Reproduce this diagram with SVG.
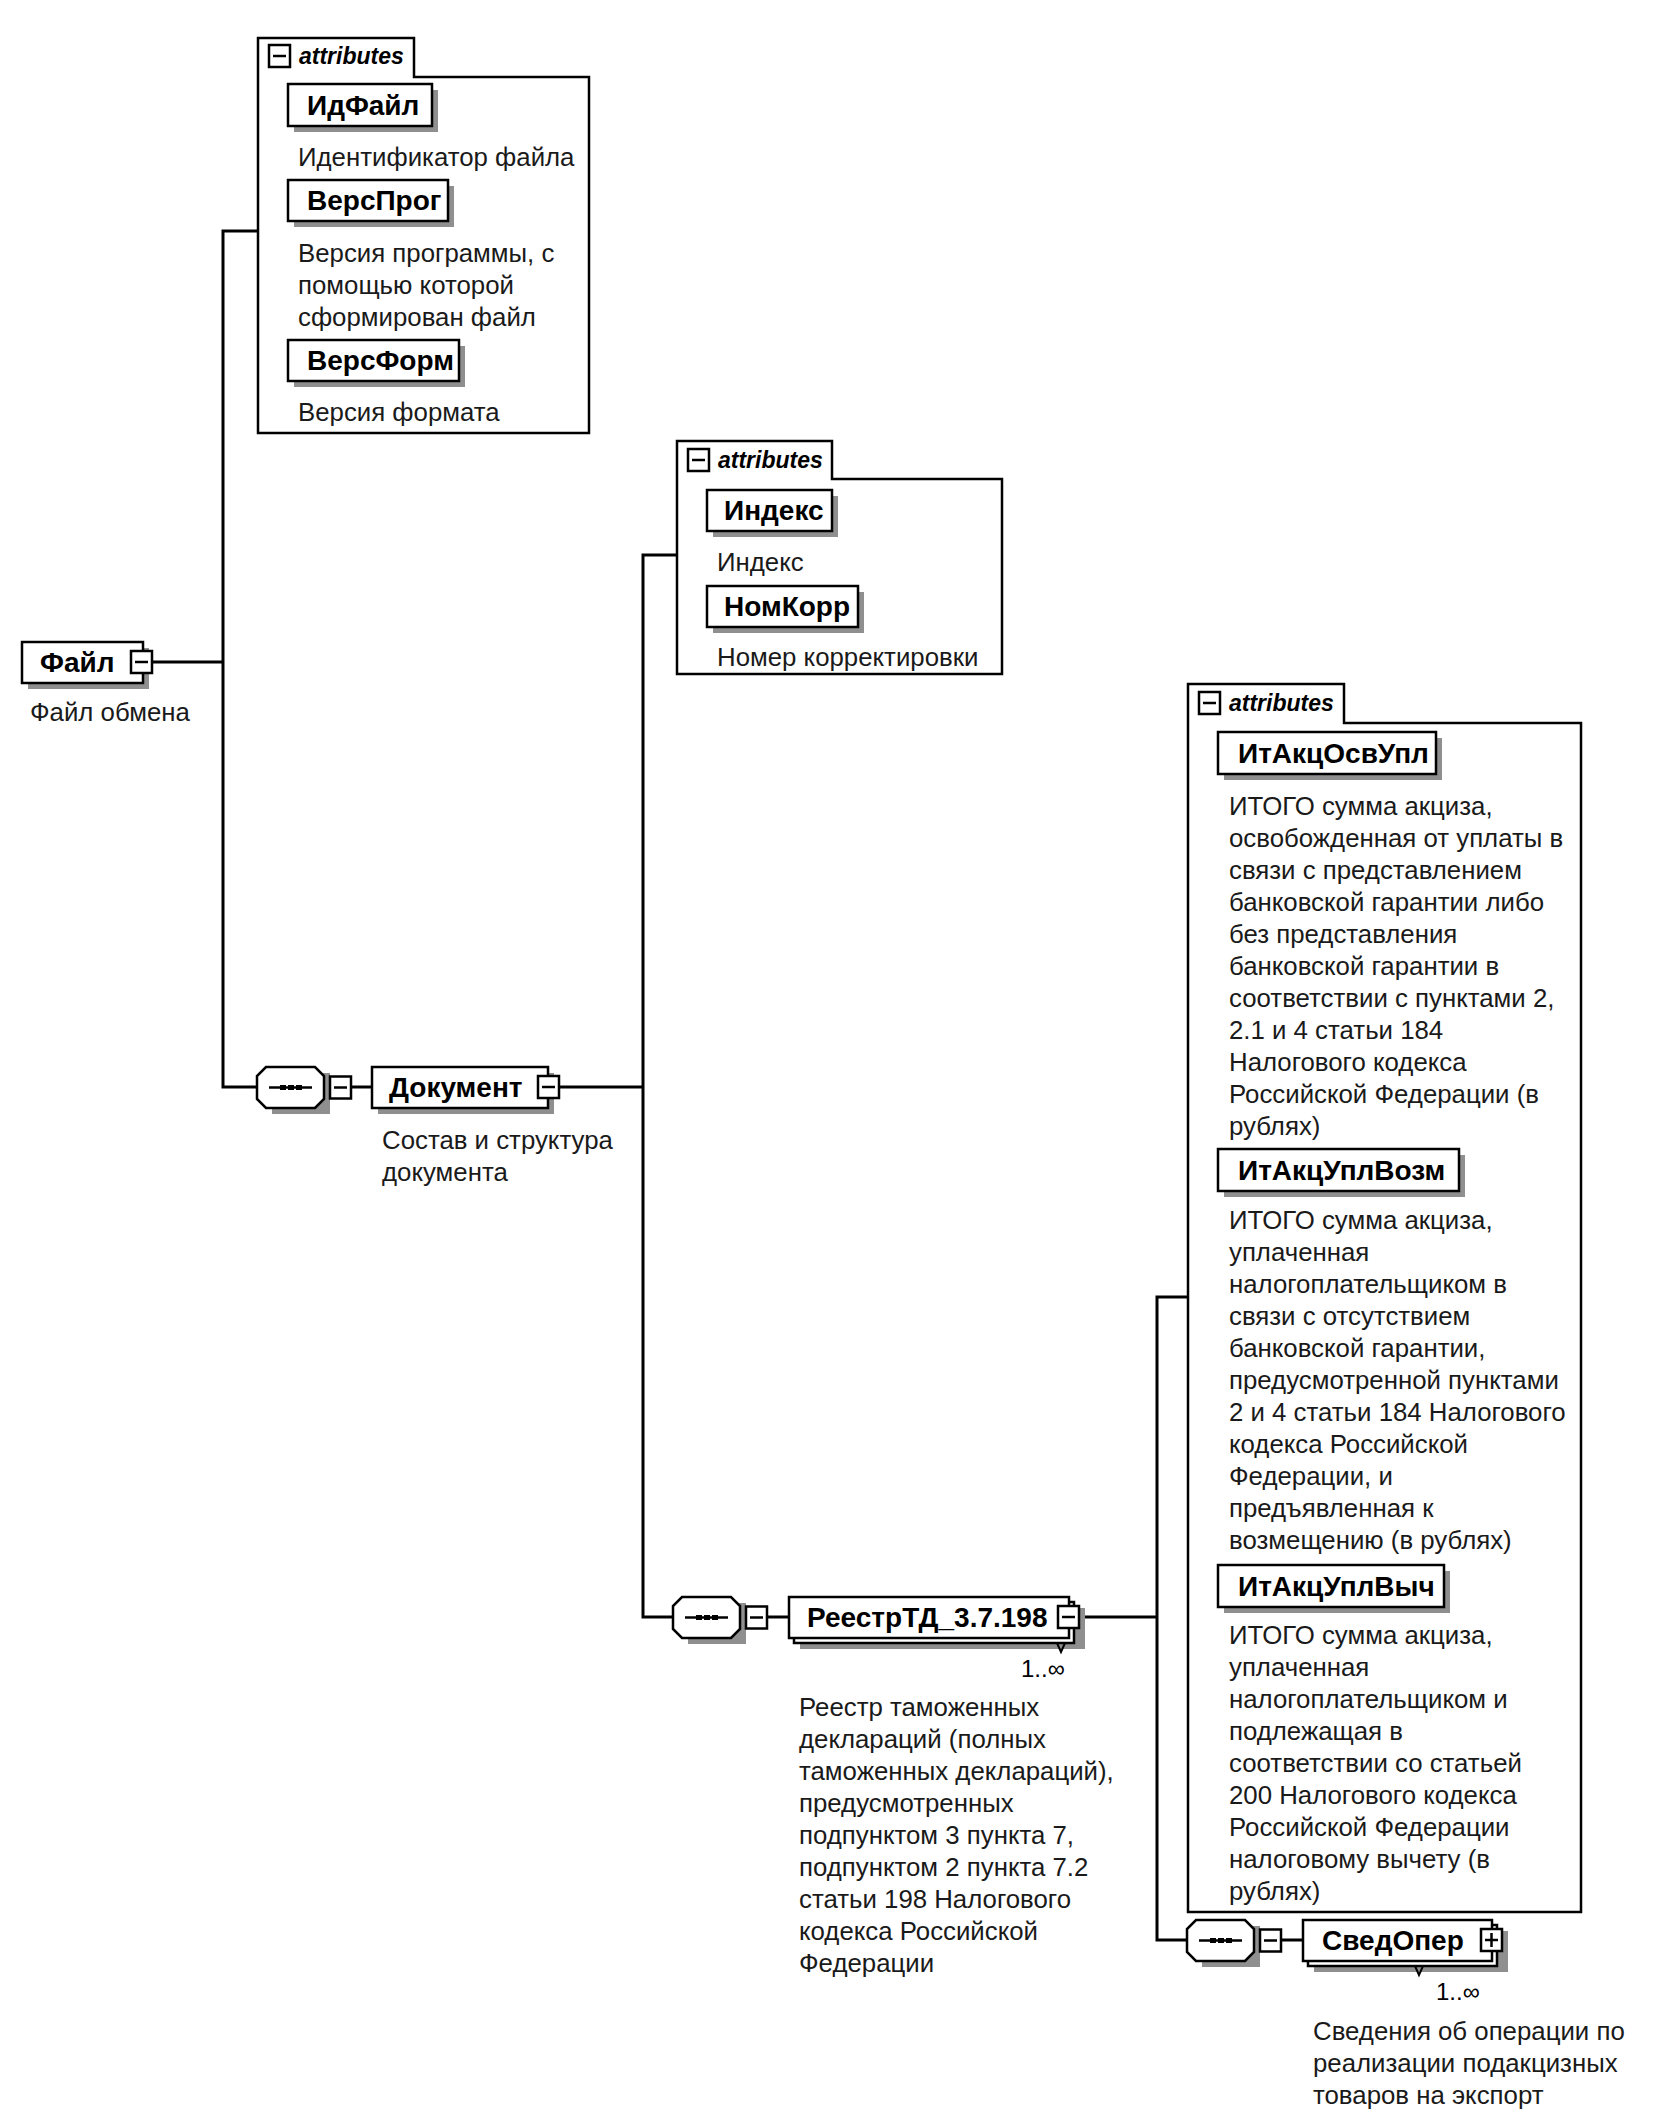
<svg xmlns="http://www.w3.org/2000/svg" xmlns:xlink="http://www.w3.org/1999/xlink" width="1654" height="2123" viewBox="0 0 1654 2123">
<style>
.ln{stroke:#000;stroke-width:3;fill:none}
.bx{fill:#fff;stroke:#000;stroke-width:2.5}
.ab{fill:#fff;stroke:#000;stroke-width:2.5}
.sh{fill:#8f8f8f}
.nm{font-family:"Liberation Sans",Arial,sans-serif;font-weight:bold;font-size:28px;fill:#000}
.ds{font-family:"Liberation Sans",Arial,sans-serif;font-size:25.8px;fill:#1a1a1a}
.at{font-family:"Liberation Sans",Arial,sans-serif;font-weight:bold;font-style:italic;font-size:23px;fill:#000}
.oc{font-family:"Liberation Sans",Arial,sans-serif;font-size:24px;fill:#000}
.ic{fill:#fff;stroke:#000;stroke-width:2.5}
</style>
<defs>
<g id="seq">
<path class="sh" d="M15,6 L73,6 L73,47 L15,47 Z"/>
<path class="bx" d="M9,0 L58,0 L67,9 L67,32 L58,41 L9,41 L0,32 L0,9 Z"/>
<line x1="12" y1="20.5" x2="55" y2="20.5" stroke="#000" stroke-width="2.5"/>
<rect x="23" y="18" width="6" height="5" fill="#000"/>
<rect x="31" y="18" width="6" height="5" fill="#000"/>
<rect x="39" y="18" width="6" height="5" fill="#000"/>
<rect class="ic" x="73" y="9.5" width="21" height="22"/>
<line x1="77" y1="20.5" x2="90" y2="20.5" stroke="#000" stroke-width="2.5"/>
</g>
<g id="minus">
<rect class="ic" x="0" y="0" width="21" height="22"/>
<line x1="4" y1="11" x2="17" y2="11" stroke="#000" stroke-width="2.5"/>
</g>
<g id="plus">
<rect class="ic" x="0" y="0" width="21" height="22"/>
<line x1="4" y1="11" x2="17" y2="11" stroke="#000" stroke-width="2.5"/>
<line x1="10.5" y1="4" x2="10.5" y2="18" stroke="#000" stroke-width="2.5"/>
</g>
</defs>
<rect width="1654" height="2123" fill="#fff"/>

<g id="connectors">
<path class="ln" d="M152,662 H223 M258,231 H223 V1087 H257 M351,1087 H372 M559,1087 H643 M677,555 H643 V1617 H673 M767,1617 H789 M1080,1617 H1157 M1188,1297 H1157 V1940 H1187 M1281,1940 H1303"/>
</g>

<g id="node-file">
<rect class="sh" x="28" y="648" width="121" height="41"/>
<rect class="bx" x="22" y="642" width="121" height="41"/>
<text class="nm" x="40" y="672">Файл</text>
<use xlink:href="#minus" x="131" y="651"/>
<text class="ds" x="30" y="721">Файл обмена</text>
</g>

<g id="attrs-file">
<path class="ab" d="M258,433 V38 H414 V77 H589 V433 Z"/>
<use xlink:href="#minus" x="269" y="45"/>
<text class="at" x="299" y="64">attributes</text>
<rect class="sh" x="294" y="90" width="144" height="42"/>
<rect class="bx" x="288" y="84" width="144" height="42"/>
<text class="nm" x="307" y="115">ИдФайл</text>
<text class="ds" x="298" y="166">Идентификатор файла</text>
<rect class="sh" x="294" y="186" width="160" height="41"/>
<rect class="bx" x="288" y="180" width="160" height="41"/>
<text class="nm" x="307" y="210">ВерсПрог</text>
<text class="ds" x="298" y="262">Версия программы, с<tspan x="298" dy="32">помощью которой</tspan><tspan x="298" dy="32">сформирован файл</tspan></text>
<rect class="sh" x="294" y="346" width="171" height="41"/>
<rect class="bx" x="288" y="340" width="171" height="41"/>
<text class="nm" x="307" y="370">ВерсФорм</text>
<text class="ds" x="298" y="421">Версия формата</text>
</g>

<g id="seq-1">
<use xlink:href="#seq" x="257" y="1067"/>
</g>

<g id="node-doc">
<rect class="sh" x="378" y="1073" width="176" height="41"/>
<rect class="bx" x="372" y="1067" width="176" height="41"/>
<text class="nm" x="389" y="1097">Документ</text>
<use xlink:href="#minus" x="538" y="1076"/>
<text class="ds" x="382" y="1149">Состав и структура<tspan x="382" dy="32">документа</tspan></text>
</g>

<g id="attrs-doc">
<path class="ab" d="M677,674 V441 H832 V479 H1002 V674 Z"/>
<use xlink:href="#minus" x="688" y="449"/>
<text class="at" x="718" y="468">attributes</text>
<rect class="sh" x="713" y="496" width="125" height="41"/>
<rect class="bx" x="707" y="490" width="125" height="41"/>
<text class="nm" x="724" y="520">Индекс</text>
<text class="ds" x="717" y="571">Индекс</text>
<rect class="sh" x="713" y="592" width="151" height="41"/>
<rect class="bx" x="707" y="586" width="151" height="41"/>
<text class="nm" x="724" y="616">НомКорр</text>
<text class="ds" x="717" y="666">Номер корректировки</text>
</g>

<g id="seq-2">
<use xlink:href="#seq" x="673" y="1597"/>
</g>

<g id="node-reestr">
<rect class="sh" x="800" y="1608" width="285" height="41"/>
<rect class="bx" x="794" y="1602" width="280" height="41"/>
<rect class="bx" x="789" y="1597" width="280" height="41"/>
<text class="nm" x="807" y="1627">РеестрТД_3.7.198</text>
<use xlink:href="#minus" x="1058" y="1606"/>
<path d="M1057,1643 L1061,1652 L1065,1643" fill="none" stroke="#000" stroke-width="2"/>
<text class="oc" x="1021" y="1677">1..∞</text>
<text class="ds" x="799" y="1716">Реестр таможенных<tspan x="799" dy="32">деклараций (полных</tspan><tspan x="799" dy="32">таможенных деклараций),</tspan><tspan x="799" dy="32">предусмотренных</tspan><tspan x="799" dy="32">подпунктом 3 пункта 7,</tspan><tspan x="799" dy="32">подпунктом 2 пункта 7.2</tspan><tspan x="799" dy="32">статьи 198 Налогового</tspan><tspan x="799" dy="32">кодекса Российской</tspan><tspan x="799" dy="32">Федерации</tspan></text>
</g>

<g id="attrs-reestr">
<path class="ab" d="M1188,1912 V684 H1344 V723 H1581 V1912 Z"/>
<use xlink:href="#minus" x="1199" y="692"/>
<text class="at" x="1229" y="711">attributes</text>
<rect class="sh" x="1224" y="738" width="218" height="42"/>
<rect class="bx" x="1218" y="732" width="218" height="42"/>
<text class="nm" x="1238" y="763">ИтАкцОсвУпл</text>
<text class="ds" x="1229" y="815">ИТОГО сумма акциза,<tspan x="1229" dy="32">освобожденная от уплаты в</tspan><tspan x="1229" dy="32">связи с представлением</tspan><tspan x="1229" dy="32">банковской гарантии либо</tspan><tspan x="1229" dy="32">без представления</tspan><tspan x="1229" dy="32">банковской гарантии в</tspan><tspan x="1229" dy="32">соответствии с пунктами 2,</tspan><tspan x="1229" dy="32">2.1 и 4 статьи 184</tspan><tspan x="1229" dy="32">Налогового кодекса</tspan><tspan x="1229" dy="32">Российской Федерации (в</tspan><tspan x="1229" dy="32">рублях)</tspan></text>
<rect class="sh" x="1224" y="1155" width="241" height="42"/>
<rect class="bx" x="1218" y="1149" width="241" height="42"/>
<text class="nm" x="1238" y="1180">ИтАкцУплВозм</text>
<text class="ds" x="1229" y="1229">ИТОГО сумма акциза,<tspan x="1229" dy="32">уплаченная</tspan><tspan x="1229" dy="32">налогоплательщиком в</tspan><tspan x="1229" dy="32">связи с отсутствием</tspan><tspan x="1229" dy="32">банковской гарантии,</tspan><tspan x="1229" dy="32">предусмотренной пунктами</tspan><tspan x="1229" dy="32">2 и 4 статьи 184 Налогового</tspan><tspan x="1229" dy="32">кодекса Российской</tspan><tspan x="1229" dy="32">Федерации, и</tspan><tspan x="1229" dy="32">предъявленная к</tspan><tspan x="1229" dy="32">возмещению (в рублях)</tspan></text>
<rect class="sh" x="1224" y="1571" width="226" height="42"/>
<rect class="bx" x="1218" y="1565" width="226" height="42"/>
<text class="nm" x="1238" y="1596">ИтАкцУплВыч</text>
<text class="ds" x="1229" y="1644">ИТОГО сумма акциза,<tspan x="1229" dy="32">уплаченная</tspan><tspan x="1229" dy="32">налогоплательщиком и</tspan><tspan x="1229" dy="32">подлежащая в</tspan><tspan x="1229" dy="32">соответствии со статьей</tspan><tspan x="1229" dy="32">200 Налогового кодекса</tspan><tspan x="1229" dy="32">Российской Федерации</tspan><tspan x="1229" dy="32">налоговому вычету (в</tspan><tspan x="1229" dy="32">рублях)</tspan></text>
</g>

<g id="seq-3">
<use xlink:href="#seq" x="1187" y="1920"/>
</g>

<g id="node-sved">
<rect class="sh" x="1314" y="1931" width="194" height="41"/>
<rect class="bx" x="1308" y="1925" width="189" height="41"/>
<rect class="bx" x="1303" y="1920" width="189" height="41"/>
<text class="nm" x="1322" y="1950">СведОпер</text>
<use xlink:href="#plus" x="1481" y="1929"/>
<path d="M1415,1966 L1419,1975 L1423,1966" fill="none" stroke="#000" stroke-width="2"/>
<text class="oc" x="1436" y="2000">1..∞</text>
<text class="ds" x="1313" y="2040">Сведения об операции по<tspan x="1313" dy="32">реализации подакцизных</tspan><tspan x="1313" dy="32">товаров на экспорт</tspan></text>
</g>
</svg>
